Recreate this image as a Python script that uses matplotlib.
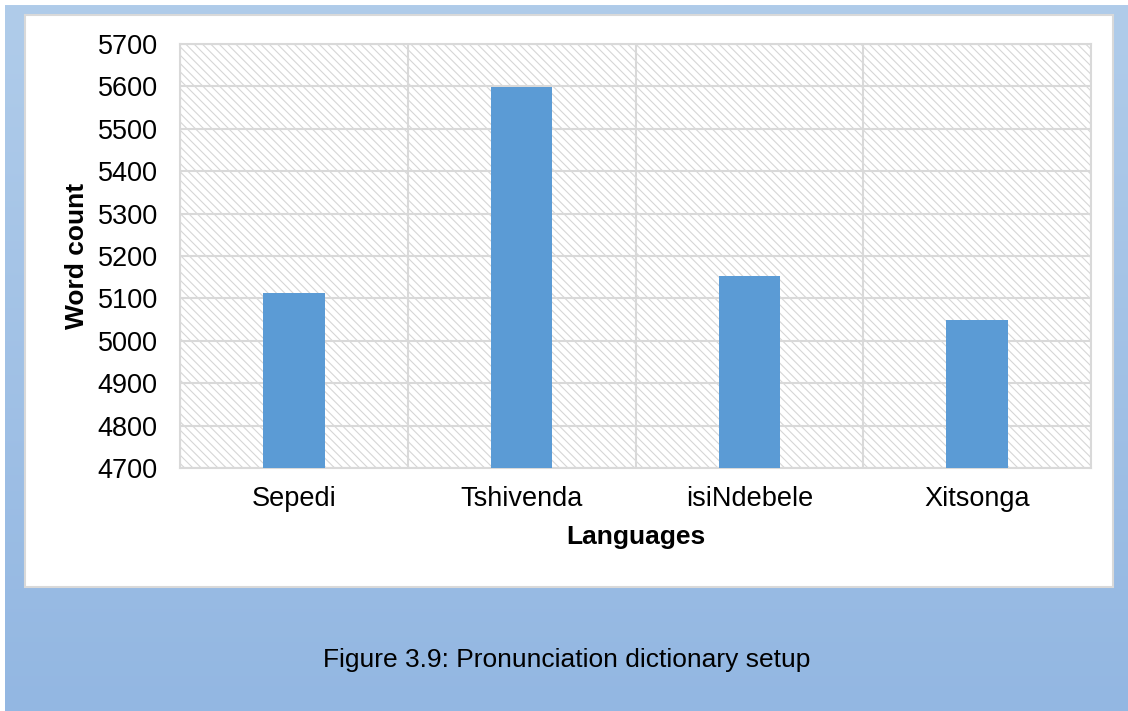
import numpy as np
import matplotlib
matplotlib.use("Agg")
import matplotlib.pyplot as plt
from matplotlib.patches import Rectangle

languages = ["Sepedi", "Tshivenda", "isiNdebele", "Xitsonga"]
word_counts = [5112, 5598, 5153, 5048]
y_ticks = [4700, 4800, 4900, 5000, 5100, 5200, 5300, 5400, 5500, 5600, 5700]

plt.rcParams["font.family"] = ["Liberation Sans", "DejaVu Sans"]
plt.rcParams["hatch.color"] = "#d6d6d6"
plt.rcParams["hatch.linewidth"] = 0.8

W, H = 1128, 711
fig = plt.figure(figsize=(W / 100, H / 100), dpi=100, facecolor="white")

# blue gradient frame
bg = fig.add_axes([5 / W, 0, (W - 5) / W, (H - 5) / H])
top = np.array([176, 204, 234]) / 255
bot = np.array([147, 183, 226]) / 255
t = np.linspace(0, 1, 256)[:, None]
grad = top[None, :] * (1 - t) + bot[None, :] * t
bg.imshow(grad[:, None, :], aspect="auto", extent=[0, 1, 0, 1])
bg.set_axis_off()

# white chart panel
fig.patches.append(Rectangle((25 / W, (H - 587) / H), (1113 - 25) / W, (587 - 15) / H,
                             transform=fig.transFigure, facecolor="white",
                             edgecolor="#d9d9d9", linewidth=1.5, zorder=1))

ax = fig.add_axes([180 / W, (H - 468) / H, (1091 - 180) / W, (468 - 44) / H])
ax.set_zorder(2)
ax.set_facecolor("white")
ax.add_patch(Rectangle((0, 0), 1, 1, transform=ax.transAxes, facecolor="white",
                       edgecolor="#d6d6d6", hatch="\\\\\\\\", linewidth=0, zorder=0))

x = np.arange(len(languages))
ax.bar(x, word_counts, width=0.27, color="#5b9bd5", zorder=3)
ax.set_xlim(-0.5, len(languages) - 0.5)
ax.set_ylim(4700, 5700)
ax.set_yticks(y_ticks)
ax.set_xticks(x)
ax.set_xticklabels(languages)
ax.set_xticks(np.arange(len(languages) + 1) - 0.5, minor=True)
ax.grid(axis="y", which="major", color="#d9d9d9", linewidth=1.5, zorder=1)
ax.grid(axis="x", which="minor", color="#d9d9d9", linewidth=1.5, zorder=1)
ax.set_axisbelow(True)
ax.tick_params(axis="both", which="both", length=0, labelsize=19.5)
ax.tick_params(axis="y", pad=16)
ax.tick_params(axis="x", pad=13)
for s in ax.spines.values():
    s.set_color("#d9d9d9")
    s.set_linewidth(1.5)

ax.set_ylabel("Word count", fontsize=19, fontweight="bold", labelpad=6)
ax.set_xlabel("Languages", fontsize=19, fontweight="bold", labelpad=9)

fig.text(567 / W, 1 - 660 / H, "Figure 3.9: Pronunciation dictionary setup",
         ha="center", va="center", fontsize=19)

fig.savefig("out.png", dpi=100)
